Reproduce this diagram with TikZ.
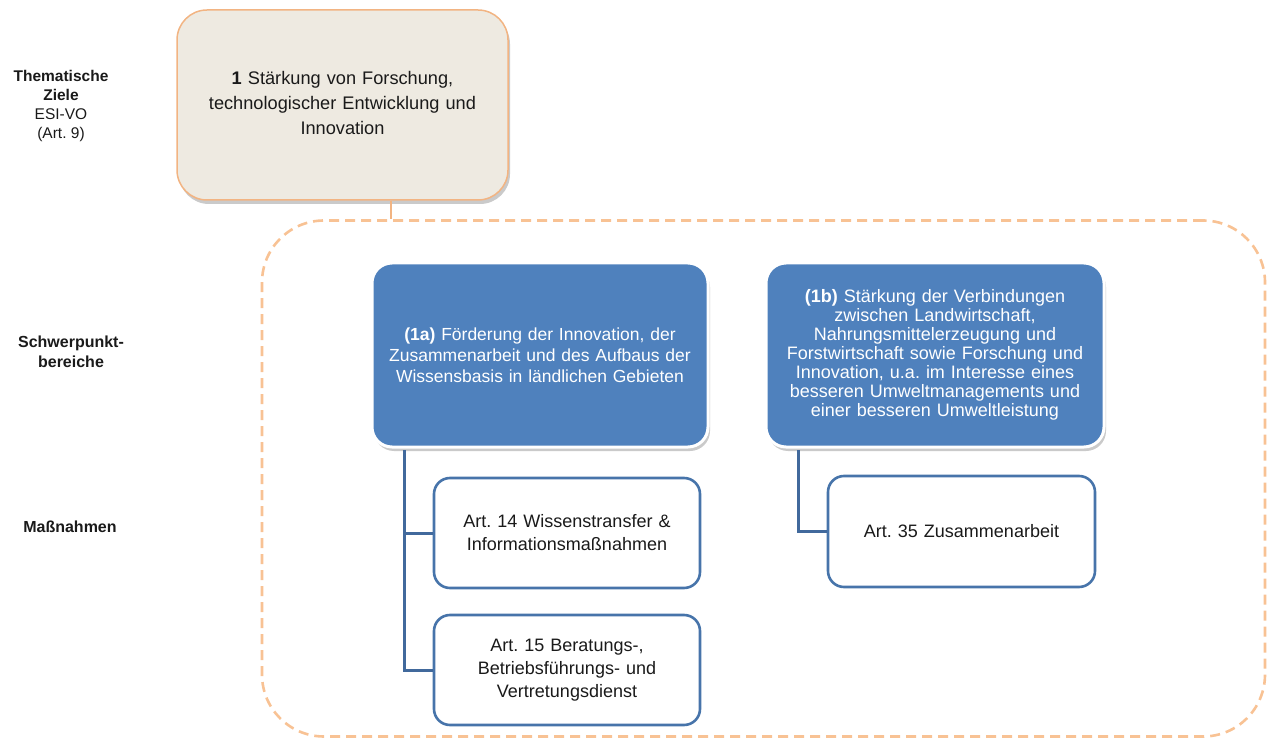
\documentclass[tikz,border=0pt]{standalone}
\usepackage{fontspec}
\setmainfont{Liberation Sans}
\usetikzlibrary{shadows}
\frenchspacing
\definecolor{beige}{HTML}{EEEAE1}
\definecolor{orangeb}{HTML}{F2B482}
\definecolor{dashor}{HTML}{F8C294}
\definecolor{bluef}{HTML}{4F81BD}
\definecolor{blueline}{HTML}{41699C}
\definecolor{txt}{HTML}{1A1A1A}
\tikzset{
  goalbox/.style={draw=orangeb, line width=1.5pt, fill=beige, rounded corners=30pt,
    drop shadow={shadow xshift=2pt, shadow yshift=-4pt, fill=black!35, opacity=0.6},
    align=center, text=txt, font=\fontsize{18.2}{25}\selectfont, inner sep=0pt},
  prioritybox/.style={draw=white, line width=3pt, fill=bluef, rounded corners=20pt,
    drop shadow={shadow xshift=2pt, shadow yshift=-4pt, fill=black!35, opacity=0.6},
    align=center, text=white, inner sep=0pt},
  measurebox/.style={draw=bluef!90!black, line width=2.6pt, fill=white, rounded corners=16pt,
    align=center, text=txt, font=\fontsize{18}{23}\selectfont, inner sep=0pt},
  container/.style={draw=dashor, line width=2.6pt, dash pattern=on 10pt off 6pt, rounded corners=62pt},
  conn/.style={draw=blueline, line width=3pt},
  sidelabel/.style={align=center, text=txt, font=\fontsize{16}{20}\selectfont, inner sep=0pt},
  x=1pt, y=-1pt
}
\begin{document}
\begin{tikzpicture}
\useasboundingbox (0,0) rectangle (1267,738);

% side labels
\node[sidelabel, font=\fontsize{15.5}{19}\selectfont] (lz) at (61,106) {\textbf{Thematische}\\\textbf{Ziele}\\ESI-VO\\(Art. 9)};
\node[sidelabel] (ls) at (71,352) {\textbf{Schwerpunkt-}\\\textbf{bereiche}};
\node[sidelabel] (lm) at (70,527) {\textbf{Maßnahmen}};

% container
\node[container, minimum width=1003pt, minimum height=516pt] (cont) at (763.5,478.5) {};

% goal box
\node[goalbox, minimum width=331pt, minimum height=190pt, text width=310pt] (t1) at (342.5,105)
  {\textbf{1} Stärkung von Forschung,\\technologischer Entwicklung und\\Innovation\vphantom{g}\\[6pt]};
\coordinate (c1) at ([xshift=48pt]t1.south);
\draw[draw=orangeb, line width=2pt] (c1) -- (c1 |- cont.north);

% priority boxes
\node[prioritybox, minimum width=336pt, minimum height=184pt, text width=325pt,
  font=\fontsize{17.5}{21}\selectfont] (a1) at (540,355)
  {\textbf{(1a)} Förderung der Innovation, der\\Zusammenarbeit und des Aufbaus der\\Wissensbasis in ländlichen Gebieten};
\node[prioritybox, minimum width=338pt, minimum height=184pt, text width=332pt,
  font=\fontsize{18}{19}\selectfont] (b1) at (935,355)
  {\textbf{(1b)} Stärkung der Verbindungen\\zwischen Landwirtschaft,\\Nahrungsmittelerzeugung und\\Forstwirtschaft sowie Forschung und\\Innovation, u.a. im Interesse eines\\besseren Umweltmanagements und\\einer besseren Umweltleistung};

% measure boxes
\node[measurebox, minimum width=266pt, minimum height=110pt, text width=255pt] (m14) at (567,533)
  {Art. 14 Wissenstransfer \&\\Informationsmaßnahmen};
\node[measurebox, minimum width=266pt, minimum height=110pt, text width=255pt] (m15) at (567,670)
  {Art. 15 Beratungs-,\\Betriebsführungs- und\\Vertretungsdienst};
\node[measurebox, minimum width=267pt, minimum height=111pt, text width=255pt] (m35) at (961.5,531.5)
  {Art. 35 Zusammenarbeit};

% connectors
\coordinate (ta) at ([xshift=34pt,yshift=-1.5pt]a1.south west);
\coordinate (tb) at ([xshift=34pt,yshift=-1.5pt]b1.south west);
\draw[conn] (ta) |- (m14.west);
\draw[conn] (ta) |- (m15.west);
\draw[conn] (tb) |- (m35.west);
\end{tikzpicture}
\end{document}
